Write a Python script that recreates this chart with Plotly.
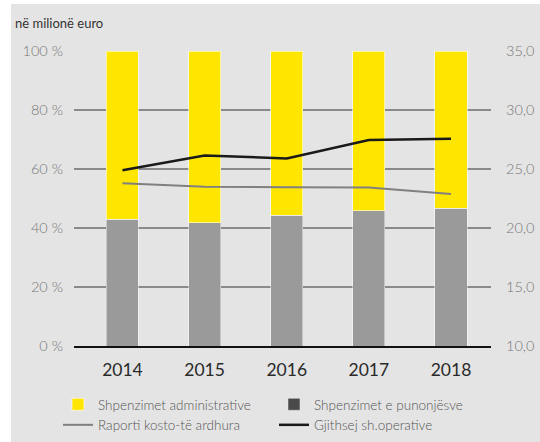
import plotly.graph_objects as go

years = ["2014", "2015", "2016", "2017", "2018"]
staff_pct = [43.0, 41.8, 44.4, 45.8, 46.7]          # Shpenzimet e punonjësve (%)
admin_pct = [57.0, 58.2, 55.6, 54.2, 53.3]          # Shpenzimet administrative (%)
cost_income = [55.2, 54.0, 53.8, 53.7, 51.5]        # Raporti kosto-të ardhura (%)
total_opex = [24.9, 26.15, 25.9, 27.45, 27.57]      # Gjithsej sh.operative (mil. euro)

left_ticks = [0, 20, 40, 60, 80, 100]
left_labels = ["0 %", "20 %", "40 %", "60 %", "80 %", "100 %"]
right_ticks = [10, 15, 20, 25, 30, 35]

YELLOW = "#FFE600"
GREY = "#9a9a9a"
BG = "#e4e4e4"

fig = go.Figure()
fig.add_trace(go.Bar(x=years, y=staff_pct, name="Shpenzimet e punonjësve",
                     marker=dict(color=GREY, line=dict(color="rgba(255,255,255,0.45)", width=1)),
                     width=0.39, showlegend=False))
fig.add_trace(go.Bar(x=years, y=admin_pct, name="Shpenzimet administrative",
                     marker=dict(color=YELLOW, line=dict(color="rgba(255,255,255,0.6)", width=1)),
                     width=0.39, legendrank=1))
# legend proxy for staff costs (dark square as in the original key)
fig.add_trace(go.Bar(x=[None], y=[None], name="Shpenzimet e punonjësve",
                     marker=dict(color="#4a4a4a"), legendrank=2))
fig.add_trace(go.Scatter(x=years, y=cost_income, name="Raporti kosto-të ardhura",
                         mode="lines", line=dict(color="#808080", width=2), legendrank=3))
fig.add_trace(go.Scatter(x=years, y=total_opex, name="Gjithsej sh.operative", yaxis="y2",
                         mode="lines", line=dict(color="#1a1a1a", width=2.5), legendrank=4))

W, H = 540, 442
L, R, T, B = 74, 49, 51, 96
pw, ph = W - L - R, H - T - B

fig.update_layout(
    width=W, height=H,
    margin=dict(l=L, r=R, t=T, b=B, autoexpand=False),
    paper_bgcolor="white", plot_bgcolor=BG,
    barmode="stack",
    separators=",.",
    font=dict(family="Lato, 'Noto Sans', sans-serif"),
    xaxis=dict(type="category", range=[-0.59, 4.487], showgrid=False,
               showline=True, linecolor="#111111", linewidth=2,
               tickfont=dict(size=17.5, color="#2a2a2a", weight=400), ticklabelstandoff=7),
    yaxis=dict(range=[0, 100], tickvals=left_ticks, ticktext=left_labels,
               showgrid=True, gridcolor="#8a8a8a", gridwidth=1.5, zeroline=False,
               tickfont=dict(size=14.5, color="#777777", weight=300), ticklabelstandoff=10),
    yaxis2=dict(range=[10, 35], tickvals=right_ticks, tickformat=".1f",
                overlaying="y", side="right", showgrid=False, zeroline=False,
                tickfont=dict(size=14.5, color="#777777", weight=300), ticklabelstandoff=14),
    legend=dict(orientation="h", x=(58 - L) / pw, xanchor="left",
                y=1 - (389 - T) / ph, yanchor="top",
                entrywidth=171, traceorder="normal",
                font=dict(size=13.5, color="#555555", weight=300), bgcolor="rgba(0,0,0,0)"),
    shapes=[dict(type="rect", xref="paper", yref="paper", layer="below",
                 x0=(11 - L) / pw, x1=(W - L) / pw + 0.01,
                 y0=1 - (H - T) / ph - 0.01, y1=1 - (4 - T) / ph,
                 fillcolor=BG, line=dict(width=0))],
    annotations=[dict(text="në milionë euro", xref="paper", yref="paper",
                      x=(13 - L) / pw, y=1 - (22.5 - T) / ph, xanchor="left", yanchor="middle",
                      showarrow=False, font=dict(size=13, color="#333333"))],
)

fig.write_html("out.html")
